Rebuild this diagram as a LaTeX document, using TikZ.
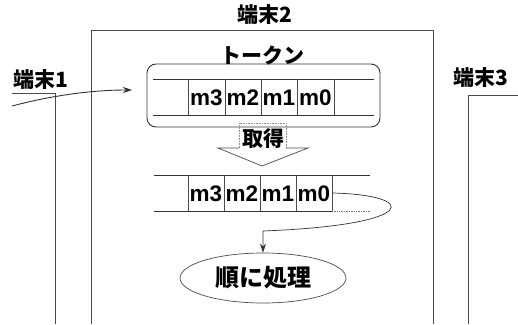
\documentclass[tikz,border=0pt]{standalone}
\usepackage{fontspec}
\setmainfont{Liberation Sans}
\newfontfamily\jp{Noto Sans CJK JP}
\usetikzlibrary{arrows.meta,shapes.geometric}
\tikzset{
  ln/.style={draw=black!80, line width=0.9pt},
  thinln/.style={draw=black!70, line width=0.7pt},
  lbl/.style={inner sep=0pt, font=\jp\bfseries\fontsize{21}{21}\selectfont},
  cell/.style={inner sep=0pt, font=\bfseries\fontsize{22.5}{22.5}\selectfont},
  arr/.style={ln, -{Stealth[length=9pt,width=6pt]}},
}
\begin{document}
\begin{tikzpicture}[x=1pt,y=-1pt]
\useasboundingbox (0,0) rectangle (518,324);
% terminals
\draw[thinln] (91,324) -- (91,30) -- (433,30) -- (433,324);
\draw[thinln] (12,93) -- (55,93) -- (55,324);
\draw[thinln] (518,95) -- (468,95) -- (468,324);
\node[lbl] (t1) at (41,80) {端末1};
\node[lbl] (t2) at (265,15) {端末2};
\node[lbl] (t3) at (481,78) {端末3};
\node[lbl] (tok) at (262,55) {トークン};
% token box
\node[ln, rounded corners=9pt, minimum width=233pt, minimum height=63pt, inner sep=0pt] (tbox) at (263.5,95.5) {};
\draw[ln] (153,79) -- (374,79);
\draw[ln] (153,115) -- (374,115);
\foreach \x in {188,225,261,297,334} \draw[thinln] (\x,79) -- (\x,115);
\node[cell] (a3) at (206.5,98) {m3};
\node[cell] (a2) at (243,98) {m2};
\node[cell] (a1) at (279,98) {m1};
\node[cell] (a0) at (315.5,98) {m0};
% incoming arrow
\coordinate (in0) at (12,106);
\coordinate (in1) at (132,90);
\draw[arr] (in0) .. controls (50,96) and (90,90) .. (in1);
% hollow arrow
\draw[black!45, line width=0.6pt, densely dotted] (239,148) -- (239,123) -- (286,123) -- (286,148);
\draw[thinln] (239,148) -- (218,148) -- (262,166) -- (308,148) -- (286,148);
\node[lbl] (get) at (263,139) {取得};
% second array
\draw[ln] (154,175) -- (370,175);
\draw[ln] (154,211) -- (332,211);
\draw[black!55, line width=0.7pt, densely dotted] (332,211) -- (370,211);
\foreach \x in {188,224,260,296,332} \draw[thinln] (\x,175) -- (\x,211);
\node[cell] (b3) at (206,194) {m3};
\node[cell] (b2) at (242,194) {m2};
\node[cell] (b1) at (278,194) {m1};
\node[cell] (b0) at (314,194) {m0};
\coordinate (b0r) at (332,193);
% process
\node[ellipse, thinln, minimum width=166pt, minimum height=50pt, inner sep=0pt,
      font=\jp\bfseries\fontsize{24}{24}\selectfont] (proc) at (263,278) {順に処理};
\coordinate (bend) at (263,231);
\draw[arr, line width=0.7pt] (b0r) .. controls (420,195) and (420,225) .. (bend) -- (proc.north);
\end{tikzpicture}
\end{document}
